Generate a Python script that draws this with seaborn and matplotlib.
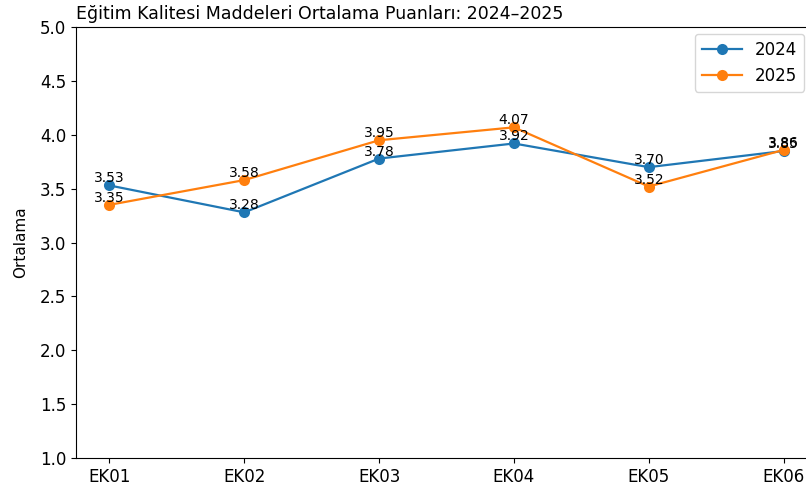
import pandas as pd
import matplotlib
matplotlib.use('Agg')
import matplotlib.pyplot as plt
import seaborn as sns

items = ['EK01', 'EK02', 'EK03', 'EK04', 'EK05', 'EK06']
scores_2024 = [3.53, 3.28, 3.78, 3.92, 3.70, 3.85]
scores_2025 = [3.35, 3.58, 3.95, 4.07, 3.52, 3.86]
years = ['2024', '2025']

df = pd.DataFrame({
    'Madde': items * 2,
    'Ortalama': scores_2024 + scores_2025,
    'Yil': [years[0]] * len(items) + [years[1]] * len(items),
})

fig = plt.figure(figsize=(8.06, 4.86), dpi=100)
# the reference is cut off at the right, so the axes run past the figure edge
ax = fig.add_axes([0.094, 0.058, 0.92, 0.886])

palette = {'2024': '#1f77b4', '2025': '#ff7f0e'}
for y in years:
    sub = df[df['Yil'] == y]
    sns.lineplot(data=sub, x='Madde', y='Ortalama', marker='o', markersize=8,
                 markeredgewidth=0, linewidth=1.6, color=palette[y], label=y,
                 ax=ax, sort=False)
    for xv, yv in zip(sub['Madde'], sub['Ortalama']):
        ax.text(xv, yv, f'{yv:.2f}', ha='center', va='bottom', fontsize=10)

ax.set_ylim(1.0, 5.0)
ax.set_xlabel('')
ax.set_ylabel('Ortalama', fontsize=11, labelpad=8)
ax.tick_params(labelsize=12)
ax.spines['right'].set_visible(False)
ax.set_title('Eğitim Kalitesi Maddeleri Ortalama Puanları: 2024–2025', loc='left', fontsize=12.5)
ax.legend(loc='upper right', bbox_to_anchor=(0.9975, 0.93), bbox_transform=fig.transFigure,
          borderaxespad=0, fontsize=12, handlelength=2.4)

fig.savefig('out.png', dpi=100)
